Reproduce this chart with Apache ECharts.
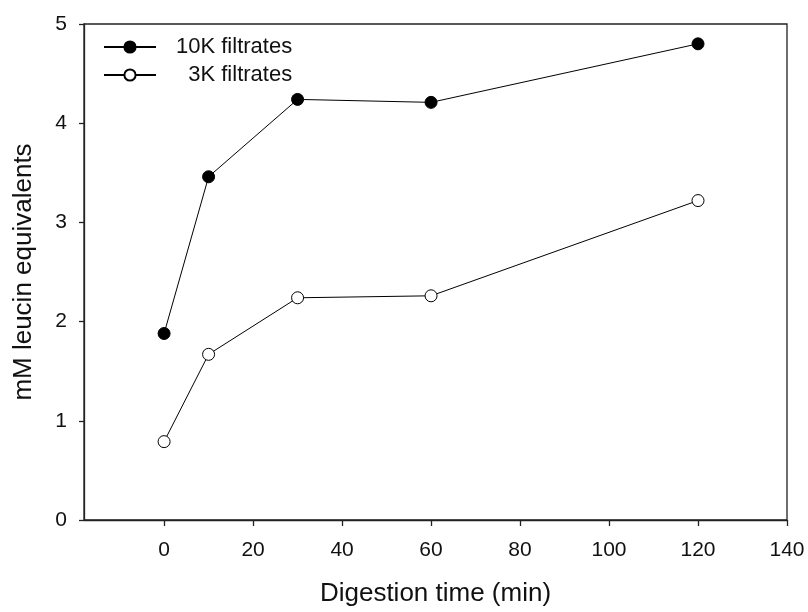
<!DOCTYPE html>
<html>
<head>
<meta charset="utf-8">
<script src="https://cdn.jsdelivr.net/npm/echarts@6/dist/echarts.min.js"></script>
<style>html,body{margin:0;padding:0;background:#fff}#c{width:808px;height:612px}</style>
</head>
<body>
<div id="c"></div>
<script>
var times = [0, 10, 30, 60, 120];
var k10 = [1.88, 3.46, 4.24, 4.21, 4.80];
var k3 = [0.79, 1.67, 2.24, 2.26, 3.22];
var xTicks = [0, 20, 40, 60, 80, 100, 120, 140];
var yTicks = [0, 1, 2, 3, 4, 5];
var seriesNames = ['10K filtrates', '3K filtrates'];

function pairs(xs, ys) { return xs.map(function (x, i) { return [x, ys[i]]; }); }

var font = 'Arial, "Liberation Sans", Helvetica, sans-serif';
var axisColor = '#222';
var chart = echarts.init(document.getElementById('c'), null, { renderer: 'canvas' });
var legendBase = {
  orient: 'vertical', itemWidth: 52, itemHeight: 14, itemGap: 10, padding: 0,
  textStyle: { fontFamily: font, fontSize: 22, color: '#111', padding: [0, 0, 0, 15] },
  selectedMode: false
};
chart.setOption({
  animation: false,
  backgroundColor: '#fff',
  grid: { left: 84, right: 21, top: 24, bottom: 91, show: true, borderColor: axisColor, borderWidth: 1.3, backgroundColor: 'transparent' },
  legend: [
    Object.assign({}, legendBase, { data: [seriesNames[0]], left: 103, top: 36 }),
    Object.assign({}, legendBase, { data: [seriesNames[1]], left: 103, top: 64,
      formatter: function (n) { return '  ' + n; } })
  ],
  xAxis: {
    type: 'value', min: -18, max: 140,
    name: 'Digestion time (min)', nameLocation: 'middle', nameGap: 61,
    nameTextStyle: { fontFamily: font, fontSize: 26, color: '#111' },
    axisLine: { show: true, onZero: false, lineStyle: { color: axisColor, width: 1.3 } },
    axisTick: { show: true, inside: false, length: 6, customValues: xTicks, lineStyle: { color: axisColor, width: 1.3 } },
    axisLabel: { customValues: xTicks, margin: 20, fontFamily: font, fontSize: 21, color: '#111' },
    splitLine: { show: false }
  },
  yAxis: {
    type: 'value', min: yTicks[0], max: yTicks[yTicks.length - 1], interval: 1,
    name: 'mM leucin equivalents', nameLocation: 'middle', nameGap: 47,
    nameTextStyle: { fontFamily: font, fontSize: 26, color: '#111' },
    axisLine: { show: true, onZero: false, lineStyle: { color: axisColor, width: 1.3 } },
    axisTick: { show: true, inside: false, length: 5, lineStyle: { color: axisColor, width: 1.3 } },
    axisLabel: { margin: 17, fontFamily: font, fontSize: 21, color: '#111' },
    splitLine: { show: false }
  },
  series: [
    {
      name: seriesNames[0], type: 'line', data: pairs(times, k10),
      symbol: 'circle', symbolSize: 12, showAllSymbol: true,
      lineStyle: { color: '#000', width: 1 },
      itemStyle: { color: '#000', borderColor: '#000', borderWidth: 1 }
    },
    {
      name: seriesNames[1], type: 'line', data: pairs(times, k3),
      symbol: 'circle', symbolSize: 12, showAllSymbol: true,
      lineStyle: { color: '#000', width: 1 },
      itemStyle: { color: '#fff', borderColor: '#000', borderWidth: 1 }
    }
  ]
});
</script>
</body>
</html>
